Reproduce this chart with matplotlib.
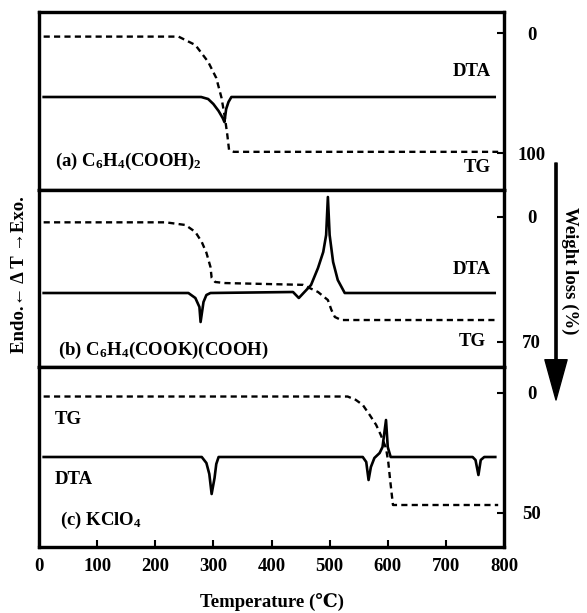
import matplotlib.pyplot as plt

plt.rcParams['font.family'] = ['Liberation Serif', 'DejaVu Serif', 'DejaVu Sans']
plt.rcParams['font.weight'] = 'bold'
plt.rcParams['font.size'] = 13.5
plt.rcParams['mathtext.fontset'] = 'custom'
plt.rcParams['mathtext.rm'] = 'Liberation Serif:bold'
plt.rcParams['mathtext.it'] = 'Liberation Serif:bold'
plt.rcParams['mathtext.bf'] = 'Liberation Serif:bold'

W, H = 587, 613

# (a) C6H4(COOH)2
tg_a_temp = [8, 240, 269, 291, 305, 314, 320, 324, 327, 335, 790]
tg_a_loss = [3, 3, 10, 24, 37.5, 54, 71, 85, 97.5, 99, 99]
dta_a_temp = [8, 279, 291, 300, 309, 316, 319, 322, 326, 331, 784]
dta_a_sig = [0, 0, -2, -7, -14, -21, -25, -12, -5, 0, 0]

# (b) C6H4(COOK)(COOH)
tg_b_temp = [8, 218, 252, 269, 280, 288, 295, 297, 303, 320, 454, 480, 497, 503, 509, 520, 790]
tg_b_loss = [3, 3, 4.5, 8.4, 14, 20, 28, 34, 36.4, 37, 38, 42, 46.5, 52, 56, 57.7, 57.7]
dta_b_temp = [8, 257, 269, 276, 278, 283, 288, 295, 437, 447, 468, 480, 489, 494, 497,
              500, 506, 514, 526, 784]
dta_b_sig = [0, 0, -5, -14, -29, -9, -2, 0, 1, -5, 8, 25, 41, 58, 96, 58, 31, 13, 0, 0]

# (c) KClO4
tg_c_temp = [8, 531, 545, 557, 569, 580, 588, 597, 601, 604, 607, 609, 790]
tg_c_loss = [1.5, 1.5, 2.9, 5, 9.2, 13.3, 17.5, 23, 29, 36, 42.5, 46.7, 46.7]
dta_c_temp = [8, 280, 288, 293, 297, 302, 305, 309, 557, 563, 567, 571, 577, 586, 591,
              597, 600, 603, 605, 746, 751, 756, 760, 766, 785]
dta_c_sig = [0, 0, -6, -17, -37, -21, -7, 0, 0, -5, -23, -10, -1, 4, 10, 37, 10, 4, 0,
             0, -3, -18, -3, 0, 0]

temp_ticks = [0, 100, 200, 300, 400, 500, 600, 700, 800]


def px(x, y):
    return x / W, 1 - y / H


def make_panel(top, bottom, dta_lim, tg_lim, tg_ticks, last=False):
    ax = fig.add_axes([39 / W, 1 - bottom / H, (504 - 39) / W, (bottom - top) / H])
    ax2 = ax.twinx()
    ax.set_xlim(0, 800)
    ax.set_ylim(*dta_lim)
    ax2.set_ylim(*tg_lim)
    ax.set_yticks([])
    if last:
        ax.set_xticks(temp_ticks)
        ax.tick_params(axis='x', direction='in', length=5, width=1.5, pad=8)
    else:
        ax.set_xticks([])
    ax2.set_yticks(tg_ticks)
    ax2.tick_params(axis='y', direction='in', length=5, width=1.5, pad=20)
    for lbl in ax2.get_yticklabels():
        lbl.set_ha('center')
    for a in (ax, ax2):
        for s in a.spines.values():
            s.set_linewidth(2.3)
    return ax, ax2


fig = plt.figure(figsize=(W / 100, H / 100), dpi=100, facecolor='white')

dash = (0, (2.6, 1.8))
panels = [
    (12, 190, (-93, 85), (130.8, -17.5), [0, 100], tg_a_temp, tg_a_loss, dta_a_temp, dta_a_sig),
    (190, 367, (-74, 103), (84, -15.1), [0, 70], tg_b_temp, tg_b_loss, dta_b_temp, dta_b_sig),
    (367, 547, (-90, 90), (64.2, -10.8), [0, 50], tg_c_temp, tg_c_loss, dta_c_temp, dta_c_sig),
]
for i, (top, bottom, dlim, tlim, tticks, tgt, tgl, dt, ds) in enumerate(panels):
    ax, ax2 = make_panel(top, bottom, dlim, tlim, tticks, last=(i == 2))
    ax.plot(dt, ds, color='black', lw=1.9, solid_joinstyle='round')
    ax2.plot(tgt, tgl, color='black', lw=1.7, linestyle=dash)

# curve and panel labels
fig.text(*px(491, 72), 'DTA', ha='right', va='center')
fig.text(*px(491, 168), 'TG', ha='right', va='center')
fig.text(*px(55, 161), '(a) C$_6$H$_4$(COOH)$_2$', ha='left', va='center')

fig.text(*px(491, 269), 'DTA', ha='right', va='center')
fig.text(*px(486, 342), 'TG', ha='right', va='center')
fig.text(*px(58, 350), '(b) C$_6$H$_4$(COOK)(COOH)', ha='left', va='center')

fig.text(*px(55, 419), 'TG', ha='left', va='center')
fig.text(*px(55, 479), 'DTA', ha='left', va='center')
fig.text(*px(60, 520), '(c) KClO$_4$', ha='left', va='center')

# axis titles
fig.text(*px(272, 602), 'Temperature (℃)', ha='center', va='center')
fig.text(*px(20, 275), 'Endo.← Δ T →Exo.', rotation=90, ha='center', va='center')
fig.text(*px(570, 271), 'Weight loss (%)', rotation=-90, ha='center', va='center')

# weight-loss direction arrow
fig.axes[0].annotate('', xy=(556, H - 400), xytext=(556, H - 163),
                     xycoords='figure pixels', textcoords='figure pixels',
                     arrowprops=dict(width=1.6, headwidth=16, headlength=29, color='black'),
                     annotation_clip=False)

fig.savefig('out.png', dpi=100)
